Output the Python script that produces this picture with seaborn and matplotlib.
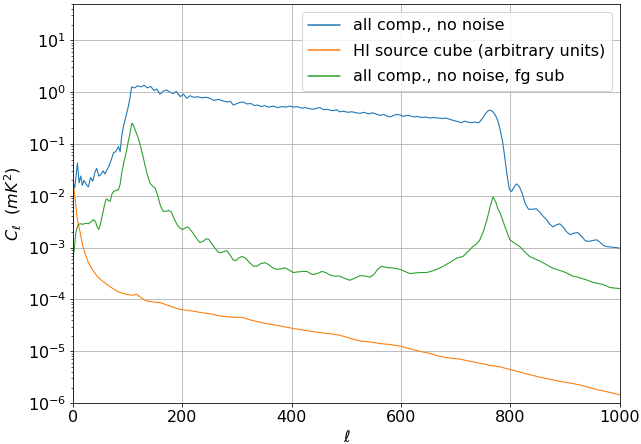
import matplotlib
matplotlib.use("Agg")
import matplotlib.pyplot as plt
from matplotlib.lines import Line2D
import seaborn as sns
import numpy as np
import pandas as pd

# values, stored as log10(C_ell)
ell_all = [0, 3, 8, 11, 14, 17, 20, 24, 28, 32, 36, 40, 43, 47, 50, 55, 58, 62, 66, 70,
           74, 78, 83, 86, 89, 92, 96, 101, 104, 107, 112, 118, 124, 130, 136, 142, 148, 153,
           159, 165, 171, 177, 183, 189, 196, 202, 208, 214, 220, 228, 236, 244, 250, 258,
           266, 274, 282, 288, 293, 300, 305, 311, 318, 325, 332, 338, 344, 350, 358, 366,
           374, 382, 390, 396, 403, 410, 418, 425, 432, 440, 446, 452, 458, 464, 470, 476,
           482, 488, 495, 502, 510, 518, 525, 532, 540, 548, 556, 562, 568, 574, 580, 586,
           592, 598, 604, 610, 617, 624, 630, 637, 645, 652, 660, 667, 675, 682, 690, 697,
           704, 710, 716, 722, 728, 735, 742, 748, 754, 759, 763, 768, 773, 777, 781, 786,
           790, 794, 798, 802, 806, 811, 816, 821, 827, 833, 840, 847, 854, 860, 866, 872,
           878, 884, 890, 896, 903, 909, 916, 923, 930, 937, 944, 951, 958, 964, 970, 976,
           985, 993, 1000]
log_all = [-1.73, -1.85, -1.37, -1.75, -1.62, -1.8, -1.7, -1.78, -1.83, -1.65, -1.72, -1.55,
           -1.47, -1.62, -1.6, -1.52, -1.58, -1.5, -1.42, -1.3, -1.17, -1.15, -1.05, -1.15,
           -0.85, -0.67, -0.5, -0.28, -0.12, 0.1, 0.08, 0.12, 0.1, 0.13, 0.08, 0.11, 0.03,
           0.06, -0.04, 0.02, 0.04, 0.0, -0.03, 0.01, -0.09, -0.04, -0.12, -0.07, -0.1, -0.09,
           -0.11, -0.1, -0.12, -0.16, -0.14, -0.17, -0.19, -0.18, -0.25, -0.22, -0.2, -0.19,
           -0.23, -0.22, -0.26, -0.25, -0.28, -0.26, -0.29, -0.27, -0.3, -0.28, -0.29, -0.27,
           -0.29, -0.28, -0.31, -0.3, -0.32, -0.33, -0.31, -0.3, -0.34, -0.33, -0.35, -0.36,
           -0.34, -0.38, -0.37, -0.39, -0.38, -0.4, -0.41, -0.39, -0.42, -0.4, -0.43, -0.45,
           -0.43, -0.46, -0.48, -0.45, -0.43, -0.44, -0.47, -0.45, -0.46, -0.48, -0.47, -0.49,
           -0.48, -0.5, -0.49, -0.5, -0.51, -0.5, -0.53, -0.55, -0.57, -0.59, -0.56, -0.58,
           -0.59, -0.58, -0.59, -0.52, -0.42, -0.36, -0.35, -0.38, -0.46, -0.56, -0.72, -0.98,
           -1.3, -1.62, -1.88, -1.92, -1.84, -1.77, -1.82, -1.94, -2.15, -2.26, -2.26, -2.25,
           -2.32, -2.4, -2.46, -2.55, -2.6, -2.56, -2.54, -2.6, -2.7, -2.75, -2.72, -2.71,
           -2.78, -2.87, -2.88, -2.86, -2.85, -2.9, -2.96, -2.98, -2.99, -3.0, -3.01]

ell_hi = [0, 2, 4, 7, 10, 13, 16, 18, 22, 25, 28, 32, 37, 44, 52, 62, 70, 80, 90, 98, 108,
          116, 125, 135, 147, 159, 170, 183, 195, 208, 222, 238, 253, 269, 290, 311, 326,
          342, 357, 373, 388, 403, 427, 451, 470, 488, 507, 525, 543, 561, 580, 598, 616,
          634, 652, 671, 689, 707, 725, 744, 762, 781, 799, 817, 835, 854, 872, 890, 908,
          927, 945, 963, 981, 1000]
log_hi = [-1.73, -1.9, -2.08, -2.4, -2.57, -2.71, -2.88, -2.98, -3.12, -3.2, -3.29, -3.36,
          -3.45, -3.55, -3.63, -3.71, -3.77, -3.84, -3.88, -3.9, -3.92, -3.9, -3.97, -4.03,
          -4.05, -4.06, -4.1, -4.15, -4.19, -4.21, -4.23, -4.26, -4.28, -4.32, -4.34, -4.35,
          -4.4, -4.44, -4.47, -4.5, -4.53, -4.56, -4.6, -4.64, -4.66, -4.69, -4.75, -4.8,
          -4.82, -4.85, -4.87, -4.9, -4.95, -5.0, -5.04, -5.1, -5.13, -5.15, -5.19, -5.23,
          -5.27, -5.3, -5.35, -5.4, -5.45, -5.5, -5.54, -5.58, -5.61, -5.65, -5.7, -5.75,
          -5.79, -5.84]

ell_fg = [0, 2, 5, 9, 13, 18, 23, 28, 33, 37, 41, 44, 47, 50, 53, 57, 60, 62, 65, 68, 71,
          74, 78, 83, 86, 89, 93, 98, 101, 104, 107, 108, 111, 116, 119, 122, 127, 132, 136,
          141, 146, 150, 155, 160, 165, 170, 175, 180, 185, 190, 195, 200, 205, 210, 215,
          222, 227, 232, 238, 243, 248, 254, 260, 265, 269, 275, 281, 287, 293, 298, 303,
          309, 315, 322, 330, 336, 343, 351, 358, 365, 373, 380, 388, 396, 403, 410, 420,
          428, 434, 439, 447, 455, 462, 470, 478, 488, 496, 506, 515, 525, 535, 543, 550,
          557, 564, 572, 580, 590, 598, 607, 616, 625, 635, 647, 657, 667, 677, 690, 702,
          713, 722, 731, 738, 744, 750, 757, 763, 768, 773, 777, 781, 790, 799, 808, 817,
          826, 835, 845, 854, 866, 878, 887, 896, 905, 914, 923, 932, 941, 951, 960, 969,
          982, 990, 1000]
log_fg = [-3.19, -3.05, -2.71, -2.56, -2.54, -2.55, -2.53, -2.54, -2.5, -2.46, -2.5, -2.6,
          -2.65, -2.55, -2.4, -2.2, -2.08, -2.06, -2.1, -2.1, -1.97, -1.92, -1.9, -1.88,
          -1.78, -1.56, -1.35, -1.12, -0.95, -0.8, -0.62, -0.6, -0.66, -0.8, -0.88, -0.99,
          -1.2, -1.43, -1.6, -1.76, -1.82, -1.85, -2.0, -2.2, -2.3, -2.3, -2.28, -2.32,
          -2.45, -2.55, -2.62, -2.65, -2.62, -2.6, -2.66, -2.76, -2.84, -2.9, -2.88, -2.83,
          -2.84, -2.93, -3.02, -3.08, -3.1, -3.08, -3.06, -3.14, -3.24, -3.25, -3.2, -3.17,
          -3.2, -3.28, -3.36, -3.36, -3.31, -3.29, -3.33, -3.39, -3.42, -3.41, -3.39, -3.44,
          -3.48, -3.47, -3.46, -3.46, -3.5, -3.52, -3.5, -3.46, -3.48, -3.53, -3.55, -3.55,
          -3.59, -3.63, -3.59, -3.54, -3.55, -3.57, -3.52, -3.42, -3.36, -3.38, -3.39, -3.4,
          -3.42, -3.46, -3.5, -3.49, -3.48, -3.48, -3.45, -3.41, -3.36, -3.28, -3.2, -3.17,
          -3.08, -2.98, -2.93, -2.85, -2.7, -2.46, -2.2, -2.02, -2.12, -2.25, -2.33, -2.6,
          -2.85, -2.92, -2.98, -3.08, -3.17, -3.22, -3.26, -3.33, -3.4, -3.43, -3.46, -3.5,
          -3.55, -3.57, -3.6, -3.63, -3.67, -3.69, -3.71, -3.77, -3.78, -3.79]

labels = ["all comp., no noise", "HI source cube (arbitrary units)",
          "all comp., no noise, fg sub"]
colors = ["#1f77b4", "#ff7f0e", "#2ca02c"]

frames = []
for name, ell, lg in zip(labels, [ell_all, ell_hi, ell_fg], [log_all, log_hi, log_fg]):
    frames.append(pd.DataFrame({"ell": ell, "cl": 10 ** np.array(lg), "series": name}))
df = pd.concat(frames, ignore_index=True)

# plain matplotlib-like look: ticks style, black text
sns.set_style("ticks", {"axes.edgecolor": "black", "text.color": "black",
                        "axes.labelcolor": "black", "xtick.color": "black",
                        "ytick.color": "black"})
plt.rcParams["font.family"] = ["DejaVu Sans"]
plt.rcParams["font.size"] = 16

DPI = 72
fig, ax = plt.subplots(figsize=(641 / DPI, 444 / DPI), dpi=DPI)
fig.subplots_adjust(left=0.114, right=0.967, bottom=0.092, top=0.991)

sns.lineplot(data=df, x="ell", y="cl", hue="series", hue_order=labels,
             palette=colors, linewidth=1.1, estimator=None, sort=False,
             legend=False, ax=ax)

ax.set_yscale("log")
ax.set_xlim(0, 1000)
ax.set_ylim(1e-6, 50)
ax.set_yticks([1e-6, 1e-5, 1e-4, 1e-3, 1e-2, 1e-1, 1, 10])
ax.grid(True, which="major", color="#b0b0b0", linewidth=0.8)
ax.tick_params(labelsize=16)
ax.set_xlabel(r"$\ell$", fontsize=16)
ax.set_ylabel(r"$C_\ell\ \ (mK^2)$", fontsize=16)
for s in ax.spines.values():
    s.set_linewidth(0.8)

handles = [Line2D([], [], color=c, linewidth=1.5) for c in colors]
ax.legend(handles, labels, loc="upper right", fontsize=16, labelspacing=0.65)

fig.savefig("out.png", dpi=DPI)
